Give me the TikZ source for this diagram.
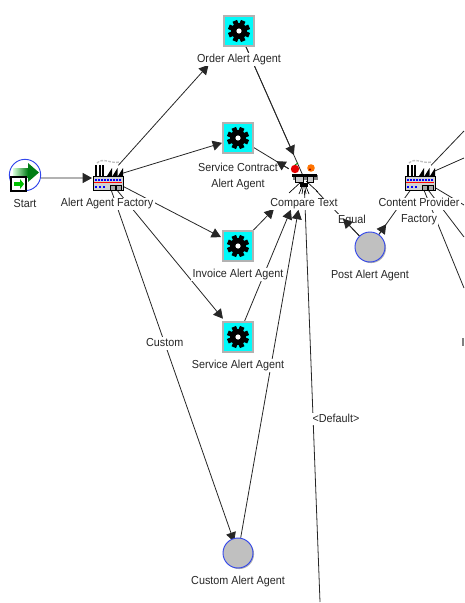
\documentclass[tikz,border=0pt]{standalone}
\usepackage{fontspec}
\setmainfont[FakeStretch=0.93]{Liberation Sans}
\usetikzlibrary{arrows.meta,positioning}
\usetikzlibrary{shapes.geometric}
\usetikzlibrary{calc,backgrounds,shadows}

\definecolor{gearcyan}{RGB}{0,250,250}
\definecolor{roundgray}{RGB}{192,192,192}
\definecolor{roundblue}{RGB}{50,70,235}
\definecolor{arrowgreen}{RGB}{0,125,20}

\tikzset{
    line/.style={draw=black!85,line width=.6pt},
    flow/.style={line,-{Triangle[length=7pt,width=7.5pt]}},
    caption/.style={fill=white,inner sep=1pt,text=black!85,text height=6pt,text depth=1.5pt,
        font=\fontsize{8.7}{11}\selectfont},
    gearbox/.style={rectangle,minimum size=22.5pt,inner sep=0pt,fill=gearcyan,draw=black!30,line width=.8pt,
        drop shadow={shadow xshift=1.1pt,shadow yshift=-1.1pt,fill=black!35,opacity=1}},
    plantbox/.style={rectangle,minimum width=22.5pt,minimum height=18.6pt,inner sep=0pt},
    roundbox/.style={circle,minimum size=22.5pt,inner sep=0pt,fill=roundgray,draw=roundblue,line width=.7pt,
        drop shadow={shadow xshift=.8pt,shadow yshift=-.8pt,fill=black!30,opacity=1}},
    startbox/.style={circle,minimum size=23.5pt,inner sep=0pt,fill=white,draw=roundblue,line width=.7pt},
    pics/gearpic/.style={code={
        \fill[black] (0,0) circle[radius=8];
        \foreach \a in {0,45,...,135} {
            \fill[black,rotate=\a+22.5] (-2.4,-11) rectangle (2.4,11);
        }
        \fill[white] (0,0) circle[radius=2.6];
    }},
    pics/plantpic/.style={code={
        \draw[black!25,line width=1pt,dash pattern=on 2pt off 1pt] (-10,-15) .. controls (-4,-21) and (3,-14) .. (13,-16);
        \foreach \a in {-12,-8.5,-5} {
            \fill[black] (\a,-13) rectangle (\a+2.2,-2);
        }
        \foreach \a in {0,5.5,11} {
            \fill[black] (\a,-2) -- (\a+5,-10) -- (\a+5,-2) -- cycle;
        }
        \fill[black!45] (-13,-1) rectangle (17,13);
        \draw[black,fill=black!18,line width=.7pt] (-14,-2) rectangle (16,12);
        \foreach \a in {-12,-9,...,13} {
            \fill[blue] (\a,1.2) rectangle (\a+1.8,3);
        }
        \draw[red,line width=.9pt] (-13,4.6) -- (15,4.6);
        \foreach \a in {-12,-8,-4} {
            \fill[blue] (\a,8.3) rectangle (\a+1.8,10);
        }
        \draw[black,fill=black!35,line width=.6pt] (3,7) rectangle (8,12);
        \draw[black,fill=black!35,line width=.6pt] (9,7) rectangle (14,12);
    }},
    pics/comparepic/.style={code={
        \draw[black,line width=.5pt] (-2,3) -- (-15,15);
        \draw[black,line width=.5pt] (2,3) -- (14,14);
        \foreach \a in {-5,-2,2,5} {
            \draw[black,line width=.5pt] (\a*.35,8) -- (\a,16);
        }
        \fill[black!50] (-11,-3) rectangle (14,2);
        \fill[black] (-12,-4) rectangle (13,-1);
        \draw[black,fill=black!20,line width=.7pt] (-9,-2) rectangle (-1,4);
        \draw[black,fill=black!20,line width=.7pt] (3,-2) rectangle (9,4);
        \fill[black] (-4,5) rectangle (4,9);
        \draw[green!50!black,line width=.7pt] (-9,-13) -- (-6,-15);
        \fill[red!90!black] (-9,-9) circle[radius=4.2];
        \fill[orange!90!red] (7,-10) circle[radius=3.8];
        \fill[red!60!black] (6,-8.5) circle[radius=1.2];
    }},
    pics/startpic/.style={code={
        \shade[left color=green!15!white,right color=arrowgreen,draw=none] (-12,-7) rectangle (3,2);
        \fill[arrowgreen] (3,-12) -- (14,-2.5) -- (3,7) -- cycle;
        \draw[black,fill=white,line width=1pt] (-14,2) rectangle (1,16);
        \fill[green!75!black] (-11,6.5) rectangle (-5,11);
        \fill[green!75!black] (-5,4) -- (-1,9) -- (-5,14) -- cycle;
    }}
}

\begin{document}
\begin{tikzpicture}[
    x=.75pt,y=-.75pt,
    node distance=5pt,
]
\useasboundingbox (0,0) rectangle (464,603);

\node[startbox] (start) at (25,175) {};
\node[plantbox] (factory) at (107,178) {};
\node[gearbox] (order) at (239,31) {};
\node[gearbox] (contract) at (238,138) {};
\node[gearbox] (invoice) at (238,246) {};
\node[gearbox] (service) at (238,337) {};
\node[roundbox] (custom) at (238,553) {};
\node[plantbox] (compare) at (304,178) {};
\node[roundbox] (post) at (370,247) {};
\node[plantbox] (provider) at (419,178) {};

\node[caption,below=of start] (startlbl) {Start};
\node[caption,below=of factory] (factorylbl) {Alert Agent Factory};
\node[caption,below=of order] (orderlbl) {Order Alert Agent};
\node[caption,below=6.5pt of contract] (contractlbl) {Service Contract};
\node[caption,below=1.7pt of contractlbl] (contractlbltwo) {Alert Agent};
\node[caption,below=of invoice] (invoicelbl) {Invoice Alert Agent};
\node[caption,below=of service] (servicelbl) {Service Alert Agent};
\node[caption,below=of custom] (customlbl) {Custom Alert Agent};
\node[caption,below=of compare] (comparelbl) {Compare Text};
\node[caption,below=of post] (postlbl) {Post Alert Agent};
\node[caption,below=of provider] (providerlbl) {Content Provider};
\node[caption,below=1.7pt of providerlbl] (providerlbltwo) {Factory};
\node[caption] (equallbl) at (352,220) {Equal};
\node[caption] (defaultlbl) at (336,419) {<Default>};

\coordinate (startout) at (start.east |- factory);
\coordinate (defaultend) at (320,602);
\coordinate (outa) at (464,131);
\coordinate (outb) at (464,158);
\coordinate (outc) at (464,205);
\coordinate (outd) at (464,237);
\coordinate (oute) at (464,288);
\coordinate (cuta) at (463,338);
\coordinate (cutb) at (463,346);

\begin{scope}[on background layer]
\draw[flow] (startout) -- ($(startout)!.773!(factory)$);
\draw[flow] (factory) -- ($(factory)!.769!(order)$);
\draw[flow] (factory) -- ($(factory)!.878!(contract)$);
\draw[flow] (factory) -- ($(factory)!.87!(invoice)$);
\draw[flow] (factory) -- ($(factory)!.885!(service)$);
\draw[flow] (factory) -- ($(factory)!.97!(custom)$)
    node[caption,pos=.435] (customedge) {Custom};
\draw[line] (order) -- (compare.center);
\draw[flow] (order) -- ($(order)!.844!(compare)$);
\draw[line] (contract) -- (compare);
\draw[flow] (invoice) -- ($(invoice)!.544!(compare)$);
\draw[flow] (service) -- ($(service)!.8!(compare)$);
\draw[flow] (custom) -- ($(custom)!.915!(compare)$);
\draw[line] (compare) -- (defaultend);
\draw[line] (compare) -- (post);
\draw[line] (post) -- (provider);
\draw[flow] (post) -- ($(post)!.33!(provider)$);
\draw[line] (provider) -- (outa);
\draw[line] (provider) -- (outb);
\draw[line] (provider) -- (outc);
\draw[line] (provider) -- (outd);
\draw[line] (provider) -- (oute);
\draw[black!50,line width=1pt] (cuta) -- (cutb);
\end{scope}

\draw[flow] (compare) -- ($(compare)!.42!(contract)$);
\draw[flow] (post) -- ($(post)!.41!(compare)$);

\pic at (start) {startpic};
\pic at (factory) {plantpic};
\pic at (provider) {plantpic};
\pic at (compare) {comparepic};
\pic at (order) {gearpic};
\pic at (contract) {gearpic};
\pic at (invoice) {gearpic};
\pic at (service) {gearpic};
\end{tikzpicture}
\end{document}
